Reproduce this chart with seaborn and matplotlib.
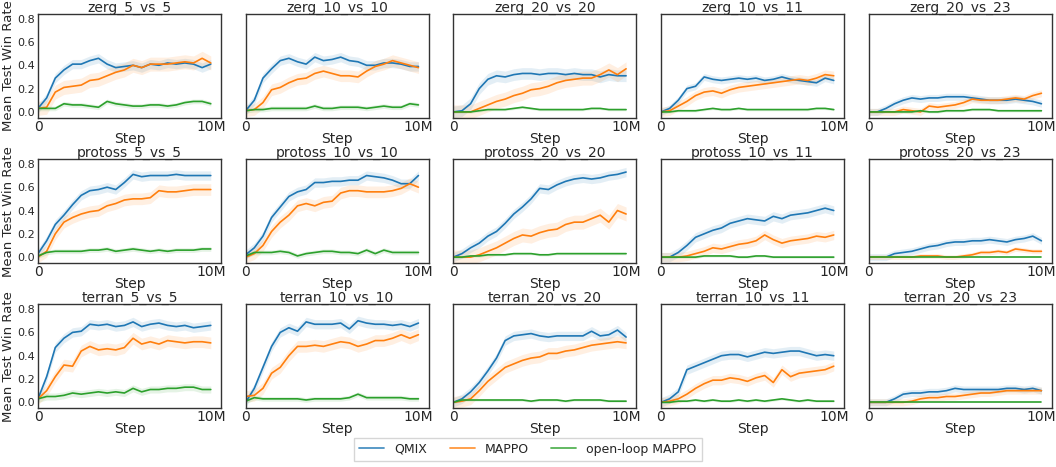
import matplotlib
matplotlib.use("Agg")
import matplotlib.pyplot as plt
from matplotlib.lines import Line2D
import numpy as np
import pandas as pd
import seaborn as sns

# ---------------- data ----------------
steps_m = [0, 0.5, 1, 1.5, 2, 2.5, 3, 3.5, 4, 4.5, 5, 5.5, 6, 6.5, 7, 7.5, 8, 8.5, 9, 9.5, 10]
methods = ["QMIX", "MAPPO", "open-loop MAPPO"]
maps = ["zerg_5_vs_5", "zerg_10_vs_10", "zerg_20_vs_20", "zerg_10_vs_11", "zerg_20_vs_23",
        "protoss_5_vs_5", "protoss_10_vs_10", "protoss_20_vs_20", "protoss_10_vs_11", "protoss_20_vs_23",
        "terran_5_vs_5", "terran_10_vs_10", "terran_20_vs_20", "terran_10_vs_11", "terran_20_vs_23"]
y_ticks = [0.0, 0.2, 0.4, 0.6, 0.8]
x_ticks_m = [0, 10]
x_tick_labels = ["0", "10M"]

zerg_5_vs_5_qmix = [0.03, 0.12, 0.29, 0.36, 0.41, 0.41, 0.44, 0.46, 0.41, 0.38, 0.39, 0.40, 0.38, 0.41, 0.40, 0.42, 0.41, 0.42, 0.41, 0.38, 0.41]
zerg_5_vs_5_mappo = [0.03, 0.04, 0.17, 0.21, 0.22, 0.23, 0.27, 0.28, 0.31, 0.34, 0.36, 0.40, 0.38, 0.41, 0.41, 0.41, 0.42, 0.43, 0.42, 0.46, 0.42]
zerg_5_vs_5_open = [0.03, 0.03, 0.03, 0.07, 0.06, 0.06, 0.05, 0.04, 0.09, 0.07, 0.06, 0.05, 0.05, 0.06, 0.06, 0.05, 0.06, 0.08, 0.09, 0.09, 0.07]

zerg_10_vs_10_qmix = [0.01, 0.10, 0.29, 0.37, 0.44, 0.46, 0.43, 0.41, 0.47, 0.44, 0.45, 0.47, 0.44, 0.43, 0.40, 0.40, 0.42, 0.42, 0.41, 0.39, 0.39]
zerg_10_vs_10_mappo = [0.01, 0.02, 0.08, 0.19, 0.21, 0.25, 0.28, 0.29, 0.33, 0.35, 0.33, 0.31, 0.31, 0.30, 0.35, 0.39, 0.41, 0.44, 0.42, 0.40, 0.38]
zerg_10_vs_10_open = [0.01, 0.02, 0.02, 0.03, 0.03, 0.03, 0.03, 0.03, 0.05, 0.03, 0.03, 0.04, 0.04, 0.04, 0.03, 0.04, 0.05, 0.04, 0.04, 0.07, 0.06]

zerg_20_vs_20_qmix = [0.0, 0.01, 0.07, 0.20, 0.28, 0.31, 0.30, 0.32, 0.33, 0.33, 0.32, 0.33, 0.33, 0.32, 0.33, 0.32, 0.32, 0.30, 0.32, 0.31, 0.31]
zerg_20_vs_20_mappo = [0.0, 0.0, 0.0, 0.03, 0.06, 0.09, 0.11, 0.14, 0.16, 0.19, 0.20, 0.22, 0.25, 0.27, 0.28, 0.29, 0.29, 0.32, 0.36, 0.32, 0.37]
zerg_20_vs_20_open = [0.0, 0.0, 0.0, 0.01, 0.02, 0.02, 0.02, 0.03, 0.04, 0.03, 0.02, 0.02, 0.02, 0.02, 0.02, 0.02, 0.03, 0.03, 0.02, 0.02, 0.02]

zerg_10_vs_11_qmix = [0.0, 0.03, 0.10, 0.20, 0.22, 0.30, 0.28, 0.27, 0.28, 0.29, 0.28, 0.29, 0.27, 0.28, 0.30, 0.28, 0.27, 0.26, 0.25, 0.29, 0.27]
zerg_10_vs_11_mappo = [0.0, 0.01, 0.05, 0.09, 0.14, 0.17, 0.18, 0.16, 0.19, 0.21, 0.22, 0.23, 0.24, 0.25, 0.26, 0.27, 0.28, 0.27, 0.29, 0.32, 0.31]
zerg_10_vs_11_open = [0.0, 0.0, 0.01, 0.01, 0.01, 0.02, 0.03, 0.02, 0.02, 0.03, 0.02, 0.02, 0.02, 0.02, 0.02, 0.02, 0.02, 0.02, 0.03, 0.03, 0.02]

zerg_20_vs_23_qmix = [0.0, 0.0, 0.03, 0.07, 0.10, 0.12, 0.11, 0.12, 0.12, 0.13, 0.13, 0.13, 0.12, 0.11, 0.10, 0.10, 0.10, 0.11, 0.10, 0.09, 0.07]
zerg_20_vs_23_mappo = [0.0, 0.0, 0.0, 0.0, 0.02, 0.01, 0.0, 0.05, 0.04, 0.05, 0.06, 0.08, 0.11, 0.10, 0.10, 0.10, 0.11, 0.12, 0.11, 0.14, 0.16]
zerg_20_vs_23_open = [0.0, 0.0, 0.0, 0.0, 0.0, 0.0, 0.01, 0.0, 0.0, 0.01, 0.01, 0.01, 0.02, 0.02, 0.02, 0.01, 0.01, 0.01, 0.01, 0.01, 0.01]

protoss_5_vs_5_qmix = [0.03, 0.14, 0.28, 0.36, 0.45, 0.53, 0.57, 0.58, 0.60, 0.58, 0.64, 0.71, 0.69, 0.70, 0.70, 0.70, 0.71, 0.70, 0.70, 0.70, 0.70]
protoss_5_vs_5_mappo = [0.0, 0.05, 0.20, 0.30, 0.34, 0.37, 0.39, 0.40, 0.44, 0.46, 0.49, 0.50, 0.50, 0.51, 0.57, 0.56, 0.56, 0.57, 0.58, 0.58, 0.58]
protoss_5_vs_5_open = [0.01, 0.04, 0.05, 0.05, 0.05, 0.05, 0.06, 0.06, 0.07, 0.05, 0.06, 0.07, 0.06, 0.05, 0.06, 0.05, 0.06, 0.06, 0.06, 0.07, 0.07]

protoss_10_vs_10_qmix = [0.02, 0.08, 0.18, 0.34, 0.43, 0.52, 0.56, 0.58, 0.64, 0.64, 0.65, 0.65, 0.66, 0.66, 0.70, 0.69, 0.68, 0.66, 0.63, 0.63, 0.70]
protoss_10_vs_10_mappo = [0.0, 0.03, 0.10, 0.22, 0.30, 0.36, 0.44, 0.46, 0.44, 0.47, 0.48, 0.55, 0.57, 0.57, 0.56, 0.56, 0.56, 0.57, 0.59, 0.63, 0.60]
protoss_10_vs_10_open = [0.01, 0.04, 0.04, 0.04, 0.05, 0.04, 0.01, 0.03, 0.04, 0.05, 0.05, 0.04, 0.04, 0.03, 0.06, 0.03, 0.06, 0.04, 0.04, 0.04, 0.04]

protoss_20_vs_20_qmix = [0.0, 0.03, 0.08, 0.12, 0.18, 0.22, 0.29, 0.37, 0.43, 0.50, 0.59, 0.58, 0.62, 0.65, 0.67, 0.68, 0.67, 0.68, 0.70, 0.71, 0.73]
protoss_20_vs_20_mappo = [0.0, 0.0, 0.0, 0.02, 0.05, 0.08, 0.12, 0.16, 0.19, 0.18, 0.21, 0.23, 0.24, 0.28, 0.30, 0.30, 0.33, 0.36, 0.30, 0.40, 0.37]
protoss_20_vs_20_open = [0.0, 0.0, 0.01, 0.01, 0.02, 0.02, 0.02, 0.03, 0.03, 0.03, 0.02, 0.02, 0.03, 0.03, 0.03, 0.03, 0.03, 0.03, 0.03, 0.03, 0.03]

protoss_10_vs_11_qmix = [0.0, 0.0, 0.04, 0.10, 0.17, 0.20, 0.23, 0.25, 0.29, 0.31, 0.33, 0.32, 0.31, 0.35, 0.33, 0.36, 0.37, 0.38, 0.40, 0.42, 0.40]
protoss_10_vs_11_mappo = [0.0, 0.0, 0.0, 0.01, 0.03, 0.05, 0.08, 0.07, 0.09, 0.11, 0.12, 0.14, 0.19, 0.15, 0.12, 0.14, 0.15, 0.16, 0.18, 0.17, 0.19]
protoss_10_vs_11_open = [0.0, 0.0, 0.0, 0.0, 0.0, 0.01, 0.01, 0.01, 0.01, 0.0, 0.0, 0.01, 0.01, 0.0, 0.0, 0.0, 0.0, 0.0, 0.0, 0.0, 0.0]

protoss_20_vs_23_qmix = [0.0, 0.0, 0.0, 0.03, 0.04, 0.05, 0.07, 0.09, 0.10, 0.12, 0.13, 0.13, 0.14, 0.14, 0.15, 0.14, 0.13, 0.15, 0.16, 0.18, 0.14]
protoss_20_vs_23_mappo = [0.0, 0.0, 0.0, 0.0, 0.0, 0.0, 0.01, 0.01, 0.01, 0.0, 0.0, 0.01, 0.02, 0.04, 0.04, 0.05, 0.04, 0.07, 0.06, 0.05, 0.05]
protoss_20_vs_23_open = [0.0, 0.0, 0.0, 0.0, 0.0, 0.0, 0.0, 0.0, 0.0, 0.0, 0.0, 0.0, 0.0, 0.0, 0.0, 0.0, 0.0, 0.0, 0.0, 0.0, 0.0]

terran_5_vs_5_qmix = [0.03, 0.22, 0.47, 0.55, 0.60, 0.61, 0.67, 0.66, 0.67, 0.65, 0.66, 0.69, 0.65, 0.67, 0.68, 0.66, 0.65, 0.66, 0.64, 0.65, 0.66]
terran_5_vs_5_mappo = [0.03, 0.10, 0.22, 0.32, 0.31, 0.44, 0.48, 0.45, 0.46, 0.45, 0.47, 0.55, 0.50, 0.52, 0.50, 0.53, 0.52, 0.51, 0.52, 0.52, 0.51]
terran_5_vs_5_open = [0.03, 0.05, 0.05, 0.06, 0.08, 0.07, 0.08, 0.09, 0.08, 0.09, 0.08, 0.12, 0.09, 0.11, 0.11, 0.12, 0.12, 0.13, 0.13, 0.11, 0.11]

terran_10_vs_10_qmix = [0.0, 0.12, 0.30, 0.48, 0.60, 0.64, 0.61, 0.69, 0.67, 0.67, 0.67, 0.68, 0.63, 0.70, 0.68, 0.67, 0.67, 0.66, 0.67, 0.65, 0.68]
terran_10_vs_10_mappo = [0.05, 0.06, 0.12, 0.25, 0.30, 0.40, 0.48, 0.48, 0.49, 0.48, 0.50, 0.52, 0.51, 0.48, 0.50, 0.53, 0.53, 0.55, 0.58, 0.55, 0.58]
terran_10_vs_10_open = [0.01, 0.04, 0.03, 0.03, 0.03, 0.03, 0.03, 0.02, 0.03, 0.03, 0.03, 0.03, 0.04, 0.07, 0.04, 0.04, 0.04, 0.04, 0.04, 0.03, 0.03]

terran_20_vs_20_qmix = [0.0, 0.03, 0.09, 0.17, 0.27, 0.38, 0.53, 0.57, 0.58, 0.59, 0.57, 0.56, 0.57, 0.57, 0.57, 0.57, 0.61, 0.57, 0.58, 0.62, 0.56]
terran_20_vs_20_mappo = [0.0, 0.01, 0.03, 0.10, 0.18, 0.24, 0.30, 0.33, 0.36, 0.38, 0.39, 0.42, 0.42, 0.44, 0.45, 0.47, 0.49, 0.50, 0.51, 0.52, 0.51]
terran_20_vs_20_open = [0.0, 0.02, 0.02, 0.02, 0.02, 0.02, 0.02, 0.02, 0.02, 0.01, 0.02, 0.02, 0.02, 0.01, 0.02, 0.02, 0.02, 0.02, 0.01, 0.01, 0.01]

terran_10_vs_11_qmix = [0.0, 0.03, 0.09, 0.28, 0.31, 0.34, 0.37, 0.40, 0.41, 0.41, 0.39, 0.41, 0.43, 0.42, 0.43, 0.44, 0.44, 0.42, 0.40, 0.41, 0.40]
terran_10_vs_11_mappo = [0.0, 0.01, 0.03, 0.07, 0.12, 0.16, 0.19, 0.19, 0.21, 0.20, 0.18, 0.21, 0.23, 0.17, 0.28, 0.22, 0.25, 0.26, 0.27, 0.28, 0.31]
terran_10_vs_11_open = [0.0, 0.0, 0.01, 0.01, 0.02, 0.01, 0.02, 0.01, 0.01, 0.02, 0.01, 0.02, 0.01, 0.02, 0.03, 0.02, 0.01, 0.02, 0.01, 0.01, 0.01]

terran_20_vs_23_qmix = [0.0, 0.0, 0.0, 0.03, 0.07, 0.08, 0.08, 0.09, 0.09, 0.10, 0.12, 0.11, 0.11, 0.11, 0.11, 0.11, 0.12, 0.12, 0.11, 0.12, 0.10]
terran_20_vs_23_mappo = [0.0, 0.0, 0.0, 0.0, 0.0, 0.01, 0.03, 0.04, 0.04, 0.05, 0.05, 0.06, 0.07, 0.08, 0.08, 0.09, 0.10, 0.10, 0.10, 0.10, 0.10]
terran_20_vs_23_open = [0.0, 0.0, 0.0, 0.0, 0.0, 0.0, 0.0, 0.0, 0.0, 0.0, 0.0, 0.0, 0.0, 0.0, 0.0, 0.0, 0.0, 0.0, 0.0, 0.0, 0.0]

# half-width of the shaded band (QMIX, MAPPO, open-loop MAPPO) for each map
band_halfwidth = {
    "zerg_5_vs_5": [0.04, 0.06, 0.02], "zerg_10_vs_10": [0.04, 0.05, 0.02],
    "zerg_20_vs_20": [0.05, 0.06, 0.01], "zerg_10_vs_11": [0.03, 0.04, 0.01],
    "zerg_20_vs_23": [0.03, 0.03, 0.01], "protoss_5_vs_5": [0.04, 0.05, 0.02],
    "protoss_10_vs_10": [0.04, 0.05, 0.02], "protoss_20_vs_20": [0.04, 0.06, 0.01],
    "protoss_10_vs_11": [0.04, 0.04, 0.01], "protoss_20_vs_23": [0.03, 0.02, 0.0],
    "terran_5_vs_5": [0.04, 0.05, 0.03], "terran_10_vs_10": [0.04, 0.05, 0.02],
    "terran_20_vs_20": [0.04, 0.05, 0.01], "terran_10_vs_11": [0.04, 0.04, 0.01],
    "terran_20_vs_23": [0.03, 0.03, 0.0],
}

# ---------------- assemble ----------------
g = globals()
rows = []
for m in maps:
    for meth, suffix in zip(methods, ["qmix", "mappo", "open"]):
        vals = g[f"{m}_{suffix}"]
        for s, v in zip(steps_m, vals):
            rows.append({"map": m, "method": meth, "step": s * 1e6, "win": v})
df = pd.DataFrame(rows)

sns.set_style("white")
plt.rcParams["font.family"] = ["DejaVu Sans"]
palette = dict(zip(methods, ["#1f77b4", "#ff7f0e", "#2ca02c"]))

fig, axes = plt.subplots(3, 5, figsize=(10.56, 4.67), dpi=100, sharey=True)
fig.subplots_adjust(left=0.036, right=0.996, top=0.970, bottom=0.126,
                    wspace=0.134, hspace=0.40)

for ax, m in zip(axes.flat, maps):
    sub = df[df["map"] == m]
    sns.lineplot(data=sub, x="step", y="win", hue="method", hue_order=methods,
                 palette=palette, ax=ax, legend=False, errorbar=None, linewidth=1.2)
    for meth, hw in zip(methods, band_halfwidth[m]):
        d = sub[sub["method"] == meth]
        ax.fill_between(d["step"], d["win"] - hw, d["win"] + hw,
                        color=palette[meth], alpha=0.12, linewidth=0)
    ax.set_title(m, fontsize=10, pad=1.5)
    ax.set_xlim(0, 10.6e6)
    ax.set_ylim(-0.05, 0.84)
    ax.set_xticks([x * 1e6 for x in x_ticks_m])
    ax.set_xticklabels(x_tick_labels, fontsize=10)
    ax.set_yticks(y_ticks)
    ax.tick_params(axis="both", direction="in", length=3, pad=1.5)
    ax.tick_params(axis="y", labelsize=8, pad=2)
    ax.set_xlabel("Step", fontsize=10, labelpad=-1.5)
    ax.set_ylabel("")
    for sp in ax.spines.values():
        sp.set_color("#333333")
        sp.set_linewidth(1.0)

for r in range(3):
    axes[r, 0].set_ylabel("Mean Test Win Rate", fontsize=9.5, labelpad=2)
    axes[r, 0].set_yticklabels([f"{t:.1f}" for t in y_ticks])

handles = [Line2D([0], [0], color=palette[mm], lw=1.3, alpha=0.8) for mm in methods]
fig.legend(handles, methods, loc="lower center", bbox_to_anchor=(0.5, 0.0),
           ncol=3, fontsize=9, frameon=True, handlelength=2.0, columnspacing=1.8,
           borderpad=0.4, fancybox=False, edgecolor="#cccccc")

fig.savefig("out.png", dpi=100)
